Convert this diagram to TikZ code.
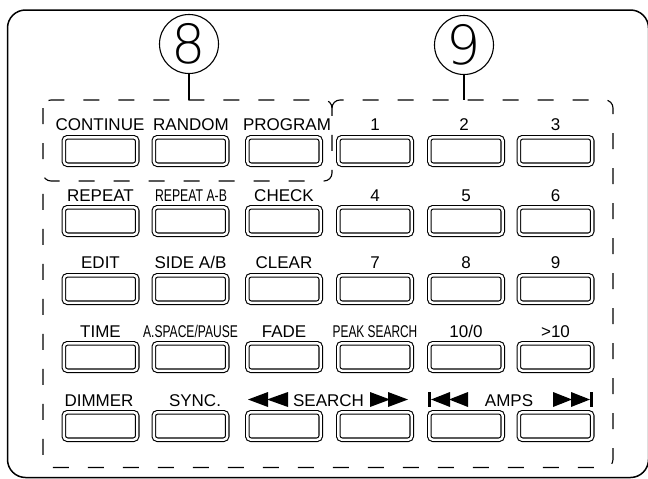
\documentclass[tikz,border=0pt]{standalone}
\usepackage{fontspec}
\setmainfont{Liberation Sans}
\newfontfamily\circfont{DejaVuSans-ExtraLight.ttf}
\usetikzlibrary{positioning}
\begin{document}
\begin{tikzpicture}[x=1pt,y=-1pt,
  btn/.style={draw, double, double distance=2.4pt, line width=1.1pt, rounded corners=3.5pt,
    minimum width=73.4pt, minimum height=27.4pt, inner sep=0pt},
  lbl/.style={anchor=base, inner sep=0pt, font=\fontsize{17}{17}\selectfont},
  grp/.style={line width=1.1pt, dash pattern=on 16pt off 19pt, rounded corners=8pt},
  callout/.style={circle, draw, line width=1.1pt, minimum size=59pt, inner sep=0pt,
    font=\circfont\fontsize{54}{54}\selectfont},
  stem/.style={line width=1.1pt},
  frame/.style={line width=1.5pt, rounded corners=18pt},
]
\useasboundingbox (0,0) rectangle (648,479);
\draw[frame] (7.5,10) rectangle (648.5,477.5);

% buttons
\foreach \c/\x in {1/100.5,2/190.5,3/284,4/375,5/466,6/555.5}{
  \foreach \r/\y in {1/151,2/221,3/289,4/357,5/426}{
    \node[btn] (b\r\c) at (\x,\y) {};
  }
}

% row 1 labels
\node[lbl] (t11) at (100,130.5) {CONTINUE};
\node[lbl] (t12) at (191,130.5) {RANDOM};
\node[lbl] (t13) at (287,130.5) {PROGRAM};
\node[lbl] (t14) at (375,130.5) {1};
\node[lbl] (t15) at (464,130.5) {2};
\node[lbl] (t16) at (555.5,130.5) {3};
% row 2
\node[lbl] (t21) at (100.5,201.5) {REPEAT};
\node[lbl] (t22) at (191,201.5) {\scalebox{0.72}[1]{REPEAT A-B}};
\node[lbl] (t23) at (284,201.5) {CHECK};
\node[lbl] (t24) at (375,201.5) {4};
\node[lbl] (t25) at (466,201.5) {5};
\node[lbl] (t26) at (555.5,201.5) {6};
% row 3
\node[lbl] (t31) at (100.5,268.5) {EDIT};
\node[lbl] (t32) at (190.5,268.5) {SIDE A/B};
\node[lbl] (t33) at (284,268.5) {CLEAR};
\node[lbl] (t34) at (375,268.5) {7};
\node[lbl] (t35) at (466,268.5) {8};
\node[lbl] (t36) at (555.5,268.5) {9};
% row 4
\node[lbl] (t41) at (100.5,337) {TIME};
\node[lbl] (t42) at (190.5,337) {\scalebox{0.71}[1]{A.SPACE/PAUSE}};
\node[lbl] (t43) at (284,337) {FADE};
\node[lbl] (t44) at (375,337) {\scalebox{0.7}[1]{PEAK SEARCH}};
\node[lbl] (t45) at (466,337) {10/0};
\node[lbl] (t46) at (555.5,337) {>10};
% row 5
\node[lbl] (t51) at (99,406.5) {DIMMER};
\node[lbl] (t52) at (195,406.5) {SYNC.};
\node[lbl] (t53) at (328.5,406.5) {SEARCH};
\node[lbl] (t55) at (509,406.5) {AMPS};

% transport symbols
\fill (248,399.5) -- (268,392) -- (268,407) -- cycle;
\fill (267,399.5) -- (288,392) -- (288,407) -- cycle;
\fill (370,392) -- (370,407) -- (390,399.5) -- cycle;
\fill (388,392) -- (388,407) -- (408,399.5) -- cycle;
\fill (428,392) rectangle (431,407);
\fill (431,399.5) -- (450,392) -- (450,407) -- cycle;
\fill (449,399.5) -- (468,392) -- (468,407) -- cycle;
\fill (553,392) -- (553,407) -- (572,399.5) -- cycle;
\fill (571,392) -- (571,407) -- (590,399.5) -- cycle;
\fill (590,392) rectangle (593,407);

% groups
\draw[grp] (43,100) rectangle (332,181);
\draw[grp] (332,108) -- (332,100) -- (613,100) -- (613,467.5) -- (43,467.5) -- (43,181) -- (51,181);

% callouts
\node[callout] (c8) at (189,44) {8};
\node[callout] (c9) at (464,45) {9};
\coordinate (g8) at (189,100);
\coordinate (g9) at (464,100);
\draw[stem] (c8) -- (g8);
\draw[stem] (c9) -- (g9);
\end{tikzpicture}
\end{document}
